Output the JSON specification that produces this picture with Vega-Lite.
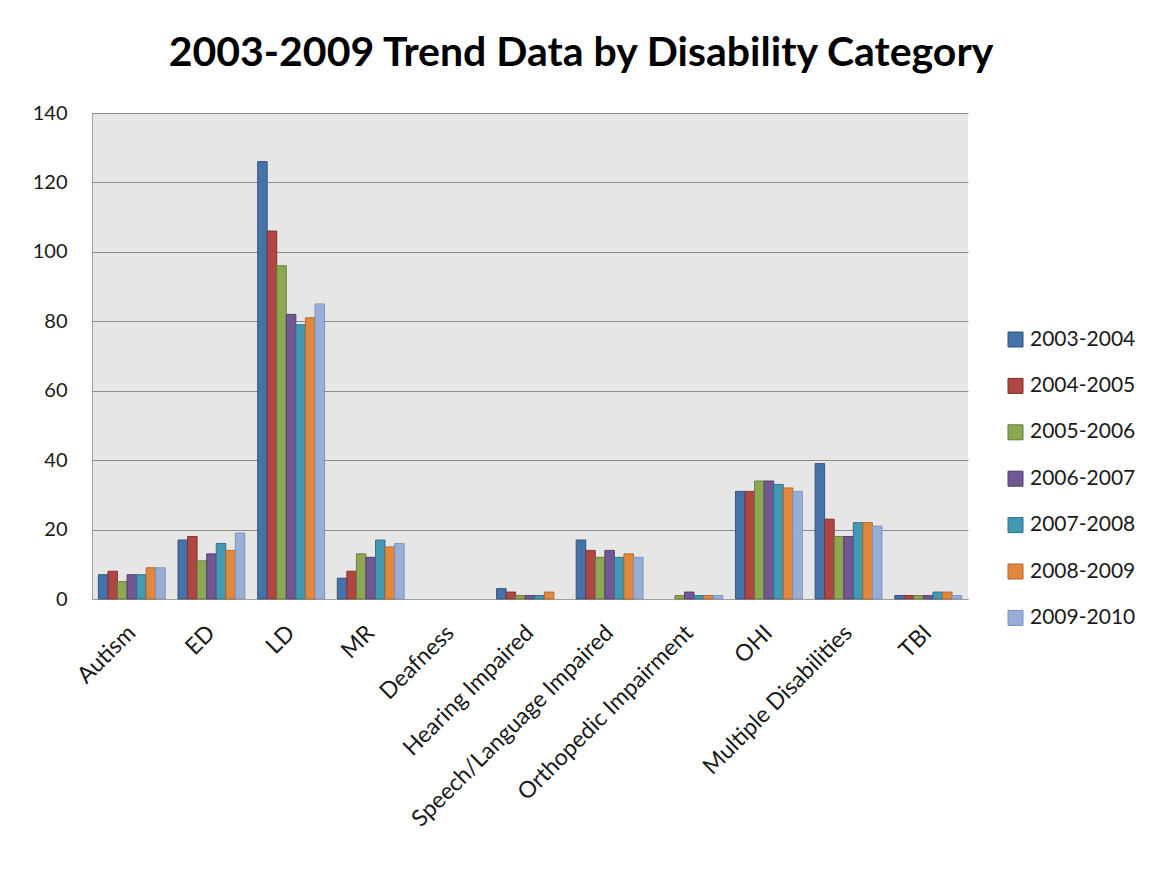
{
  "$schema": "https://vega.github.io/schema/vega-lite/v6.json",
  "width": 876,
  "height": 486,
  "autosize": {"type": "none"},
  "padding": {"left": 92, "top": 113, "right": 182, "bottom": 270},
  "background": "white",
  "title": {
    "text": "2003-2009 Trend Data by Disability Category",
    "font": "Lato",
    "fontSize": 41,
    "fontWeight": "bold",
    "color": "#000000",
    "anchor": "middle",
    "dx": 51,
    "baseline": "alphabetic",
    "offset": -4
  },
  "config": {
    "view": {"fill": "#e6e6e6", "stroke": null},
    "axis": {"labelFont": "Lato", "labelColor": "#1a1a1a"}
  },
  "data": {
    "values": [
      {"category": "Autism", "year": "2003-2004", "value": 7},
      {"category": "Autism", "year": "2004-2005", "value": 8},
      {"category": "Autism", "year": "2005-2006", "value": 5},
      {"category": "Autism", "year": "2006-2007", "value": 7},
      {"category": "Autism", "year": "2007-2008", "value": 7},
      {"category": "Autism", "year": "2008-2009", "value": 9},
      {"category": "Autism", "year": "2009-2010", "value": 9},
      {"category": "ED", "year": "2003-2004", "value": 17},
      {"category": "ED", "year": "2004-2005", "value": 18},
      {"category": "ED", "year": "2005-2006", "value": 11},
      {"category": "ED", "year": "2006-2007", "value": 13},
      {"category": "ED", "year": "2007-2008", "value": 16},
      {"category": "ED", "year": "2008-2009", "value": 14},
      {"category": "ED", "year": "2009-2010", "value": 19},
      {"category": "LD", "year": "2003-2004", "value": 126},
      {"category": "LD", "year": "2004-2005", "value": 106},
      {"category": "LD", "year": "2005-2006", "value": 96},
      {"category": "LD", "year": "2006-2007", "value": 82},
      {"category": "LD", "year": "2007-2008", "value": 79},
      {"category": "LD", "year": "2008-2009", "value": 81},
      {"category": "LD", "year": "2009-2010", "value": 85},
      {"category": "MR", "year": "2003-2004", "value": 6},
      {"category": "MR", "year": "2004-2005", "value": 8},
      {"category": "MR", "year": "2005-2006", "value": 13},
      {"category": "MR", "year": "2006-2007", "value": 12},
      {"category": "MR", "year": "2007-2008", "value": 17},
      {"category": "MR", "year": "2008-2009", "value": 15},
      {"category": "MR", "year": "2009-2010", "value": 16},
      {"category": "Hearing Impaired", "year": "2003-2004", "value": 3},
      {"category": "Hearing Impaired", "year": "2004-2005", "value": 2},
      {"category": "Hearing Impaired", "year": "2005-2006", "value": 1},
      {"category": "Hearing Impaired", "year": "2006-2007", "value": 1},
      {"category": "Hearing Impaired", "year": "2007-2008", "value": 1},
      {"category": "Hearing Impaired", "year": "2008-2009", "value": 2},
      {"category": "Speech/Language Impaired", "year": "2003-2004", "value": 17},
      {"category": "Speech/Language Impaired", "year": "2004-2005", "value": 14},
      {"category": "Speech/Language Impaired", "year": "2005-2006", "value": 12},
      {"category": "Speech/Language Impaired", "year": "2006-2007", "value": 14},
      {"category": "Speech/Language Impaired", "year": "2007-2008", "value": 12},
      {"category": "Speech/Language Impaired", "year": "2008-2009", "value": 13},
      {"category": "Speech/Language Impaired", "year": "2009-2010", "value": 12},
      {"category": "Orthopedic Impairment", "year": "2005-2006", "value": 1},
      {"category": "Orthopedic Impairment", "year": "2006-2007", "value": 2},
      {"category": "Orthopedic Impairment", "year": "2007-2008", "value": 1},
      {"category": "Orthopedic Impairment", "year": "2008-2009", "value": 1},
      {"category": "Orthopedic Impairment", "year": "2009-2010", "value": 1},
      {"category": "OHI", "year": "2003-2004", "value": 31},
      {"category": "OHI", "year": "2004-2005", "value": 31},
      {"category": "OHI", "year": "2005-2006", "value": 34},
      {"category": "OHI", "year": "2006-2007", "value": 34},
      {"category": "OHI", "year": "2007-2008", "value": 33},
      {"category": "OHI", "year": "2008-2009", "value": 32},
      {"category": "OHI", "year": "2009-2010", "value": 31},
      {"category": "Multiple Disabilities", "year": "2003-2004", "value": 39},
      {"category": "Multiple Disabilities", "year": "2004-2005", "value": 23},
      {"category": "Multiple Disabilities", "year": "2005-2006", "value": 18},
      {"category": "Multiple Disabilities", "year": "2006-2007", "value": 18},
      {"category": "Multiple Disabilities", "year": "2007-2008", "value": 22},
      {"category": "Multiple Disabilities", "year": "2008-2009", "value": 22},
      {"category": "Multiple Disabilities", "year": "2009-2010", "value": 21},
      {"category": "TBI", "year": "2003-2004", "value": 1},
      {"category": "TBI", "year": "2004-2005", "value": 1},
      {"category": "TBI", "year": "2005-2006", "value": 1},
      {"category": "TBI", "year": "2006-2007", "value": 1},
      {"category": "TBI", "year": "2007-2008", "value": 2},
      {"category": "TBI", "year": "2008-2009", "value": 2},
      {"category": "TBI", "year": "2009-2010", "value": 1}
    ]
  },
  "mark": {"type": "bar", "strokeWidth": 1, "strokeOpacity": 0.9},
  "encoding": {
    "x": {
      "field": "category",
      "type": "nominal",
      "sort": ["Autism", "ED", "LD", "MR", "Deafness", "Hearing Impaired", "Speech/Language Impaired", "Orthopedic Impairment", "OHI", "Multiple Disabilities", "TBI"],
      "scale": {
        "domain": ["Autism", "ED", "LD", "MR", "Deafness", "Hearing Impaired", "Speech/Language Impaired", "Orthopedic Impairment", "OHI", "Multiple Disabilities", "TBI"],
        "paddingInner": 0.16,
        "paddingOuter": 0.08
      },
      "axis": {
        "title": null,
        "labelAngle": -45,
        "labelAlign": "right",
        "labelBaseline": "middle",
        "labelFontSize": 23,
        "labelPadding": 30,
        "ticks": false,
        "domain": true,
        "domainColor": "#a0a0a0",
        "labelLimit": 0
      }
    },
    "xOffset": {
      "field": "year",
      "type": "nominal",
      "scale": {"paddingInner": 0, "paddingOuter": 0}
    },
    "y": {
      "field": "value",
      "type": "quantitative",
      "scale": {"domain": [0, 140]},
      "axis": {
        "title": null,
        "values": [0, 20, 40, 60, 80, 100, 120, 140],
        "labelFontSize": 20,
        "labelPadding": 25,
        "ticks": false,
        "domain": true,
        "domainColor": "#a0a0a0",
        "grid": true,
        "gridColor": "#8c8c8c",
        "gridWidth": 1
      }
    },
    "color": {
      "field": "year",
      "type": "nominal",
      "scale": {
        "domain": ["2003-2004", "2004-2005", "2005-2006", "2006-2007", "2007-2008", "2008-2009", "2009-2010"],
        "range": ["#4672AA", "#AE4644", "#8CA853", "#715793", "#4399B2", "#E2883E", "#98AED6"]
      },
      "legend": {
        "title": null,
        "orient": "none",
        "legendX": 913,
        "legendY": 216,
        "symbolType": "square",
        "symbolSize": 225,
        "symbolStrokeWidth": 1,
        "labelFont": "Lato",
        "labelFontSize": 21,
        "labelColor": "#1a1a1a",
        "rowPadding": 24.4,
        "labelOffset": 4
      }
    },
    "stroke": {
      "field": "year",
      "type": "nominal",
      "scale": {
        "domain": ["2003-2004", "2004-2005", "2005-2006", "2006-2007", "2007-2008", "2008-2009", "2009-2010"],
        "range": ["#2E4F7C", "#7F2F2D", "#64793A", "#4F3C68", "#2E6F82", "#B0632A", "#7A91BB"]
      },
      "legend": null
    }
  }
}
